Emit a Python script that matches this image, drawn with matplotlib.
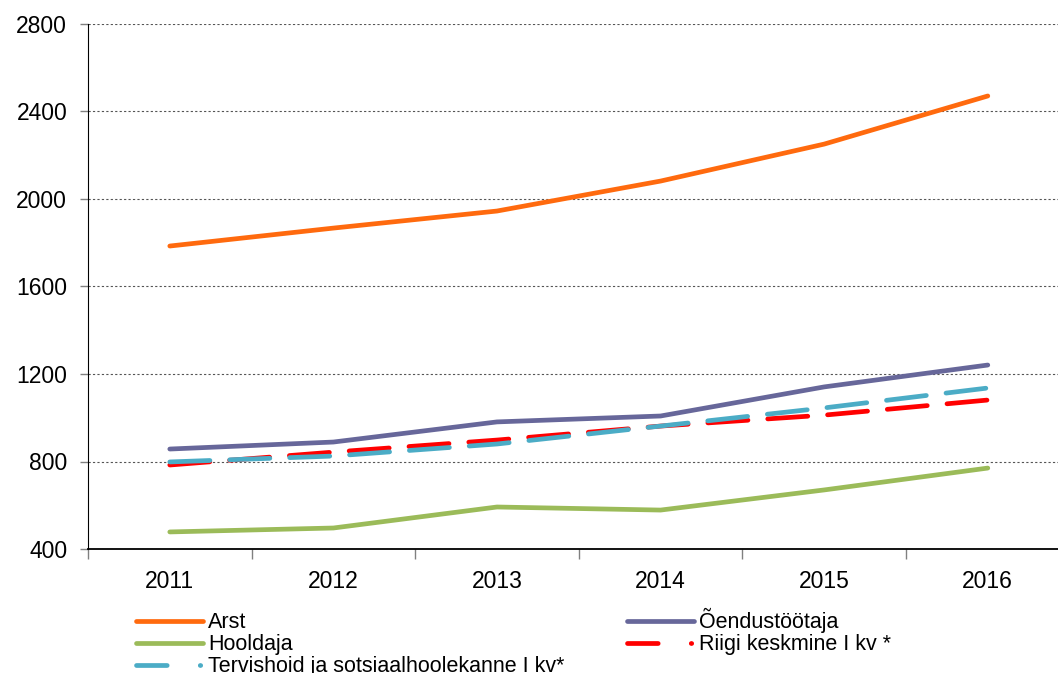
import numpy as np
import matplotlib.pyplot as plt
from matplotlib.lines import Line2D

plt.rcParams['font.family'] = ['Liberation Sans', 'DejaVu Sans']

years = ['2011', '2012', '2013', '2014', '2015', '2016']
arst = [1785, 1867, 1945, 2082, 2251, 2471]
oendus = [857, 889, 981, 1008, 1141, 1241]
hooldaja = [478, 496, 592, 578, 670, 770]
riigi = [784, 843, 898, 962, 1012, 1081]
tervis = [798, 825, 880, 962, 1045, 1136]

fig = plt.figure(figsize=(10.58, 6.73), dpi=100)
ax = fig.add_axes([88 / 1058, 1 - 549 / 673, 6 * 163.6 / 1058, 525 / 673])

x = np.arange(len(years))
lw = 3.4
l1, = ax.plot(x, arst, color='#FF6A0E', lw=lw, solid_capstyle='round', label='Arst')
l2, = ax.plot(x, oendus, color='#67679A', lw=lw, solid_capstyle='round', label='Õendustöötaja')
l3, = ax.plot(x, hooldaja, color='#9BBB59', lw=lw, solid_capstyle='round', label='Hooldaja')
l4, = ax.plot(x, riigi, color='#FF0000', lw=lw, dash_capstyle='round',
              dashes=(8.5, 4.2), label='Riigi keskmine I kv *')
l5, = ax.plot(x, tervis, color='#4BACC6', lw=lw, dash_capstyle='round',
              dashes=(8.5, 4.2), label='Tervishoid ja sotsiaalhoolekanne I kv*')

ax.set_xlim(-0.5, 5.5)
ax.set_ylim(400, 2800)
ax.set_yticks(np.arange(400, 2801, 400))
ax.set_xticks(np.arange(-0.5, 5.6, 1))
ax.set_xticklabels([])
ax.set_xticks(x, minor=True)
ax.set_xticklabels(years, minor=True)
ax.tick_params(axis='x', which='major', length=7, width=1, color='#808080', direction='out')
ax.tick_params(axis='x', which='minor', length=0, pad=15, labelsize=16.5)
ax.tick_params(axis='y', length=6, width=1, color='#808080', labelsize=16.5, pad=9)

ax.grid(axis='y', linestyle=(0, (2, 2)), color='#555555', lw=0.8)
ax.set_axisbelow(True)
for s in ['top', 'right']:
    ax.spines[s].set_visible(False)
ax.spines['left'].set_color('black')
ax.spines['bottom'].set_color('black')
ax.spines['bottom'].set_linewidth(1.3)

# legend handles: dash + dot for the dashed series
def dd(color):
    return Line2D([], [], color=color, lw=lw, dash_capstyle='round', dashes=(6.5, 7, 0.1, 8))

handles = [l1, l3, dd('#4BACC6'), l2, dd('#FF0000')]
labels = ['Arst', 'Hooldaja', 'Tervishoid ja sotsiaalhoolekanne I kv*',
          'Õendustöötaja', 'Riigi keskmine I kv *']
fig.legend(handles, labels, ncol=2, loc='upper left', bbox_to_anchor=(136 / 1058, 1 - 608 / 673),
           frameon=False, fontsize=15.5, handlelength=3.1, handletextpad=0.25,
           labelspacing=0.05, columnspacing=2.9, borderpad=0, borderaxespad=0)

fig.savefig('out.png', dpi=100)
